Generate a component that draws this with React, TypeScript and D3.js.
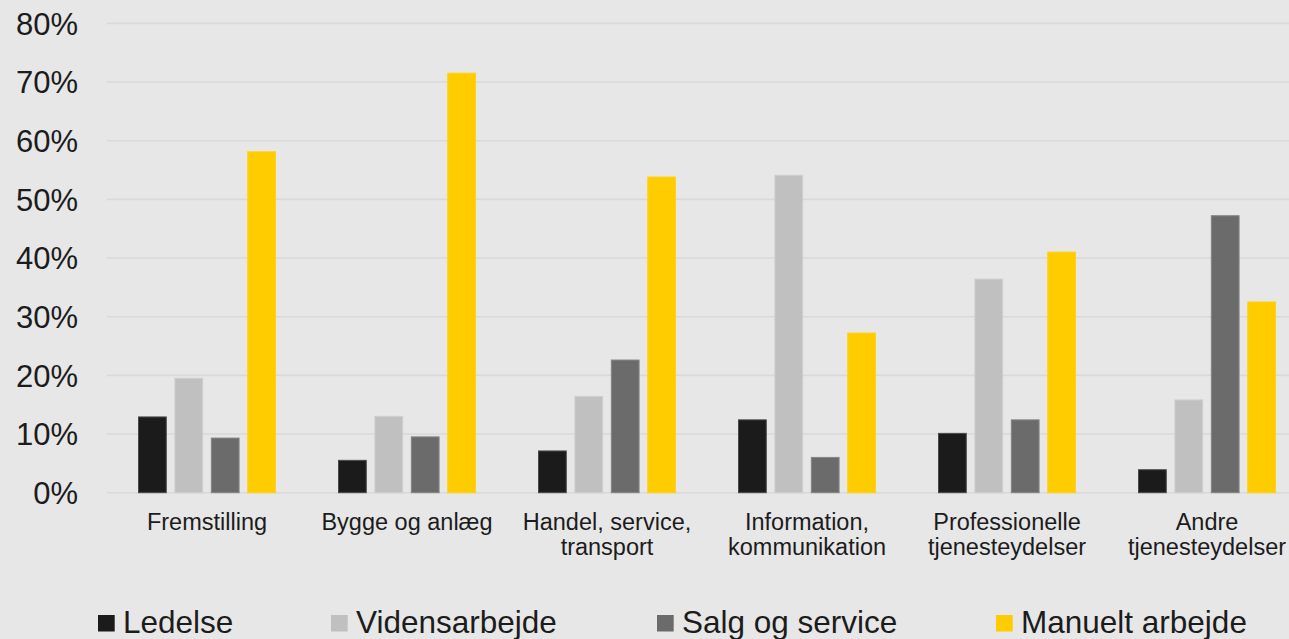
import React from "react";
import * as d3 from "d3";

const categories = [
  "Fremstilling",
  "Bygge og anlæg",
  "Handel, service,\ntransport",
  "Information,\nkommunikation",
  "Professionelle\ntjenesteydelser",
  "Andre\ntjenesteydelser",
];
const seriesNames = ["Ledelse", "Vidensarbejde", "Salg og service", "Manuelt arbejde"];
const ledelse = [13.0, 5.6, 7.2, 12.5, 10.2, 4.0];
const vidensarbejde = [19.6, 13.1, 16.5, 54.2, 36.5, 15.9];
const salgOgService = [9.4, 9.6, 22.7, 6.1, 12.5, 47.3];
const manueltArbejde = [58.2, 71.6, 53.9, 27.3, 41.1, 32.6];
const yTicks = [0, 10, 20, 30, 40, 50, 60, 70, 80];

const colors = ["#1b1b1b", "#c0c0c0", "#6b6b6b", "#ffcc00"];
const strokes = ["#4a4a4a", "#cfcfcf", "#858585", "#ffd21a"];
const legendX = [98, 331, 657, 996];

export default function App() {
  const W = 1289;
  const H = 639;
  const series = [ledelse, vidensarbejde, salgOgService, manueltArbejde];
  const x0 = d3.scaleBand<string>().domain(categories).range([107, 1307]).paddingInner(0.31).paddingOuter(0.155);
  const x1 = d3.scaleBand<number>().domain([0, 1, 2, 3]).range([0, x0.bandwidth()]).paddingInner(0.21).paddingOuter(0);
  const y = d3.scaleLinear().domain([0, 80]).range([492.7, 23.4]);
  const font = "Arial, 'Liberation Sans', sans-serif";
  const textColor = "#1c1c1c";

  return (
    <svg
      width={W}
      height={H}
      style={{ position: "absolute", left: 0, top: 0, background: "#e7e7e7" }}
      fontFamily={font}
    >
      <rect x={0} y={0} width={W} height={H} fill="#e7e7e7" />
      {yTicks.map((t) => (
        <g key={t}>
          <line x1={107} x2={W} y1={y(t)} y2={y(t)} stroke="#d9d9d9" strokeWidth={1.6} />
          <text x={78} y={y(t)} dy="0.36em" textAnchor="end" fontSize={31} fill={textColor}>
            {t}%
          </text>
        </g>
      ))}
      {categories.map((c, ci) => (
        <g key={c} transform={`translate(${x0(c)},0)`}>
          {series.map((s, si) => (
            <rect
              key={si}
              x={x1(si)! + 0.5}
              y={y(s[ci]) + 0.5}
              width={x1.bandwidth() - 1}
              height={y(0) - y(s[ci]) - 0.5}
              fill={colors[si]}
              stroke={strokes[si]}
              strokeWidth={1}
            />
          ))}
          <text
            x={x0.bandwidth() / 2}
            y={529.5}
            textAnchor="middle"
            fontSize={23.5}
            fill={textColor}
          >
            {c.split("\n").map((line, li) => (
              <tspan key={li} x={x0.bandwidth() / 2} dy={li === 0 ? 0 : 25.5}>
                {line}
              </tspan>
            ))}
          </text>
        </g>
      ))}
      {seriesNames.map((n, i) => (
        <g key={n}>
          <rect x={legendX[i]} y={615} width={16.7} height={16.5} fill={colors[i]} />
          <text x={legendX[i] + 25} y={633.3} fontSize={31.5} fill={textColor}>
            {n}
          </text>
        </g>
      ))}
    </svg>
  );
}
